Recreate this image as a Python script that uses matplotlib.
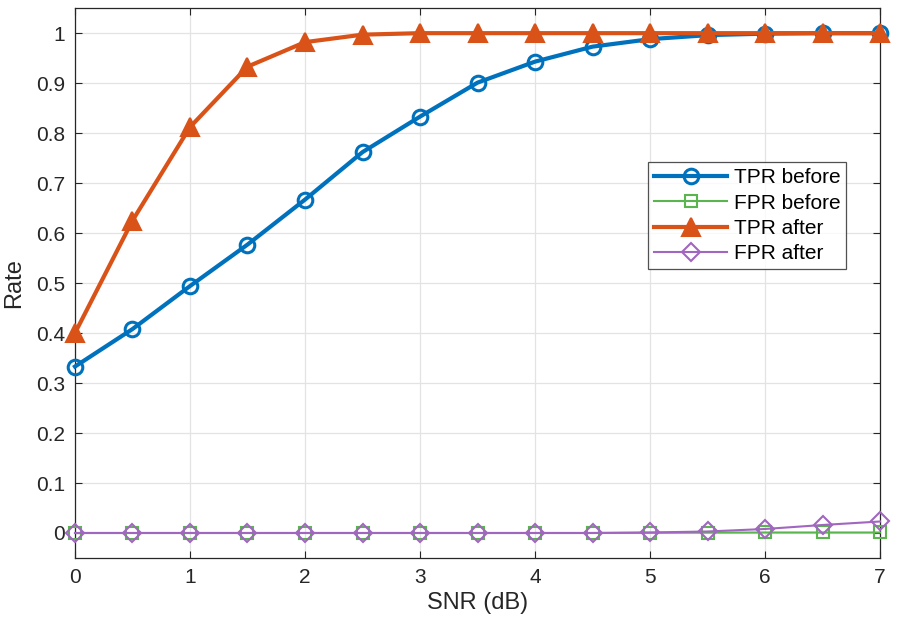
import matplotlib
matplotlib.use("Agg")
import matplotlib.pyplot as plt
import numpy as np

snr = [0, 0.5, 1, 1.5, 2, 2.5, 3, 3.5, 4, 4.5, 5, 5.5, 6, 6.5, 7]
tpr_before = [0.333, 0.408, 0.494, 0.577, 0.667, 0.762, 0.833, 0.901, 0.943, 0.973, 0.988, 0.996, 0.999, 1.0, 1.0]
fpr_before = [0.0, 0.0, 0.0, 0.0, 0.0, 0.0, 0.0, 0.0, 0.0, 0.0, 0.0005, 0.0008, 0.001, 0.001, 0.001]
tpr_after = [0.40, 0.625, 0.812, 0.933, 0.982, 0.997, 1.0, 1.0, 1.0, 1.0, 1.0, 1.0, 1.0, 1.0, 1.0]
fpr_after = [0.0, 0.0, 0.0, 0.0, 0.0, 0.0, 0.0, 0.0, 0.0, 0.0, 0.001, 0.003, 0.008, 0.016, 0.023]
xticks = [0, 1, 2, 3, 4, 5, 6, 7]
yticks = [0, 0.1, 0.2, 0.3, 0.4, 0.5, 0.6, 0.7, 0.8, 0.9, 1]
ytick_labels = ["0", "0.1", "0.2", "0.3", "0.4", "0.5", "0.6", "0.7", "0.8", "0.9", "1"]

plt.rcParams['font.family'] = ['Liberation Sans', 'DejaVu Sans']

fig = plt.figure(figsize=(8.98, 6.28), dpi=100)
ax = fig.add_axes([0.0835, 0.1115, 0.8965, 0.8755])

blue = '#0072BD'
orange = '#D95319'
green = '#5BB54F'
purple = '#A066C0'

ax.plot(snr, tpr_before, color=blue, lw=3, marker='o', ms=10.5, mfc='none', mew=2.2, label='TPR before', clip_on=False, zorder=3)
ax.plot(snr, fpr_before, color=green, lw=1.5, marker='s', ms=9, mfc='none', mew=1.5, label='FPR before', clip_on=False, zorder=3)
ax.plot(snr, tpr_after, color=orange, lw=3, marker='^', ms=13, mfc=orange, mew=1.5, label='TPR after', clip_on=False, zorder=4)
ax.plot(snr, fpr_after, color=purple, lw=1.5, marker='D', ms=9, mfc='none', mew=1.5, label='FPR after', clip_on=False, zorder=4)

ax.set_xlim(0, 7)
ax.set_ylim(-0.05, 1.05)
ax.set_xticks(xticks)
ax.set_yticks(yticks)
ax.set_yticklabels(ytick_labels)
ax.tick_params(direction='in', top=True, right=True, labelsize=15, length=5, color='#262626', labelcolor='#262626', pad=7)
ax.grid(True, color='#E3E3E3', lw=0.9)
ax.set_axisbelow(True)
for s in ax.spines.values():
    s.set_color('#262626')
    s.set_linewidth(0.9)

ax.set_xlabel('SNR (dB)', fontsize=17, color='#262626', labelpad=4)
ax.set_ylabel('Rate', fontsize=17, color='#262626', labelpad=8)

leg = ax.legend(loc='upper left', bbox_to_anchor=(0.712, 0.72), fontsize=15, frameon=True,
                fancybox=False, edgecolor='#262626', borderpad=0.3, labelspacing=0.3,
                handlelength=3.5, handletextpad=0.3, borderaxespad=0)
leg.get_frame().set_linewidth(0.9)

fig.savefig('out.png', dpi=100)
